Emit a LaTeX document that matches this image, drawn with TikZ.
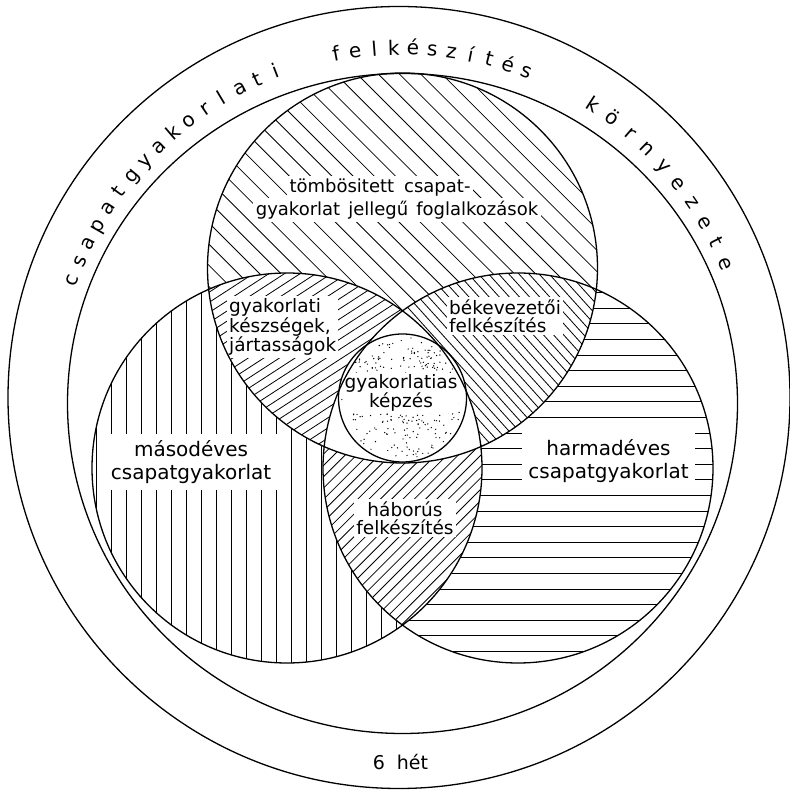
\documentclass[tikz,border=0pt]{standalone}
\usepackage{fontspec}
\setmainfont{DejaVu Sans}
\usetikzlibrary{calc}
\begin{document}
\begin{tikzpicture}[x=1pt,y=1pt,
  outline/.style={line width=1.3pt},
  hatch/.style={line width=0.8pt},
  lenslbl/.style={fill=white, inner sep=2pt, font=\fontsize{18.5}{18.5}\selectfont},
  toplbl/.style={fill=white, inner sep=3pt, font=\fontsize{18}{18}\selectfont},
  arealbl/.style={fill=white, inner sep=6pt, align=center, font=\fontsize{20}{23}\selectfont},
  ringletter/.style={anchor=base, inner sep=0pt, font=\fontsize{20}{20}\selectfont}]
\fill[white] (0,0) rectangle (790,790);
\useasboundingbox (0,0) rectangle (790,790);
\coordinate (T) at (402.5,522);
\coordinate (L) at (287,322);
\coordinate (R) at (518,322);
\coordinate (S) at (402.5,392);
\coordinate (O) at (399,392.5);
\coordinate (I) at (402.5,386.5);
\coordinate (C) at (402,390);

% top circle hatching
\begin{scope}
  \clip (T) circle (195);
  \begin{scope}[shift={(T)}, rotate=-45]
    \foreach \k in {-15,...,15} \draw[hatch] (-230,\k*15) -- (230,\k*15);
  \end{scope}
\end{scope}
% left circle vertical lines
\begin{scope}
  \clip (L) circle (195);
  \foreach \x in {96.7,111.7,...,490} \draw[hatch] (\x,120) -- (\x,520);
\end{scope}
% right circle horizontal lines
\begin{scope}
  \clip (R) circle (195);
  \foreach \k in {-7,...,20} \draw[hatch] (315,{419.3-15.6*\k}) -- (720,{419.3-15.6*\k});
\end{scope}
% top & left lens
\begin{scope}
  \clip (T) circle (195);
  \clip (L) circle (195);
  \fill[white] (0,0) rectangle (790,790);
  \begin{scope}[shift={(T)}, rotate=33]
    \foreach \k in {-50,...,50} \draw[hatch] (-420,\k*8.5) -- (420,\k*8.5);
  \end{scope}
\end{scope}
% top & right lens
\begin{scope}
  \clip (T) circle (195);
  \clip (R) circle (195);
  \fill[white] (0,0) rectangle (790,790);
  \begin{scope}[shift={(T)}, rotate=-48]
    \foreach \k in {-55,...,55} \draw[hatch] (-420,\k*7.5) -- (420,\k*7.5);
  \end{scope}
\end{scope}
% left & right lens
\begin{scope}
  \clip (L) circle (195);
  \clip (R) circle (195);
  \fill[white] (0,0) rectangle (790,790);
  \begin{scope}[shift={(L)}, rotate=45]
    \foreach \k in {-55,...,55} \draw[hatch] (-420,\k*8) -- (420,\k*8);
  \end{scope}
\end{scope}
% triple region blank
\begin{scope}
  \clip (T) circle (195);
  \clip (L) circle (195);
  \clip (R) circle (195);
  \fill[white] (0,0) rectangle (790,790);
\end{scope}
% small circle dots
\fill[white] (S) circle (64);
\pgfmathsetseed{7}
\foreach \n in {1,...,320}{
  \pgfmathsetmacro\dr{61*sqrt(rnd)}
  \pgfmathsetmacro\da{360*rnd}
  \fill ($(S)+(\da:\dr)$) circle (0.7);
}

% labels
\node[toplbl] (t1) at (380,602) {tömbösitett\hspace{10pt}csapat-};
\node[toplbl] (t2) at (397,580) {gyakorlat\hspace{8pt}jellegű\hspace{8pt}foglalkozások};
\node[lenslbl, anchor=west, align=left] (tl) at (227,463) {gyakorlati\\készségek,\\jártasságok};
\node[lenslbl, anchor=west, align=left] (tr) at (447,474) {békevezetői\\felkészítés};
\node[lenslbl, align=center, inner sep=1pt, font=\fontsize{18.5}{18}\selectfont] (ct) at (401,397) {gyakorlatias\\képzés};
\node[lenslbl, align=center] (lr) at (405,272) {háborús\\felkészítés};
\node[arealbl] (le) at (191,328) {másodéves\hspace{22pt}\\csapatgyakorlat};
\node[arealbl] (ri) at (608.5,329) {harmadéves\\csapatgyakorlat};
\node[font=\fontsize{19}{19}\selectfont] (het) at (400.5,28) {6\hspace{12pt}hét};

% outlines
\draw[outline] (T) circle (195);
\draw[outline] (L) circle (195);
\draw[outline] (R) circle (195);
\draw[outline] (S) circle (64);
\draw[outline] (I) ellipse [x radius=335, y radius=330];
\draw[outline] (O) circle (391);

% ring text
\foreach \ch [count=\i from 0] in {c,s,a,p,a,t,g,y,a,k,o,r,l,a,t,i}{
  \pgfmathsetmacro\ang{160-\i*49/15}
  \node[ringletter, rotate=\ang-90] (wa\i) at ($(C)+(\ang:345)$) {\ch};
}
\foreach \ch [count=\i from 0] in {f,e,l,k,é,s,z,í,t,é,s}{
  \pgfmathsetmacro\ang{100.8-\i*31.5/10}
  \node[ringletter, rotate=\ang-90] (wb\i) at ($(C)+(\ang:345)$) {\ch};
}
\foreach \ch [count=\i from 0] in {k,ö,r,n,y,e,z,e,t,e}{
  \pgfmathsetmacro\ang{57.1-\i*34.3/9}
  \node[ringletter, rotate=\ang-90] (wc\i) at ($(C)+(\ang:345)$) {\ch};
}
\end{tikzpicture}
\end{document}
